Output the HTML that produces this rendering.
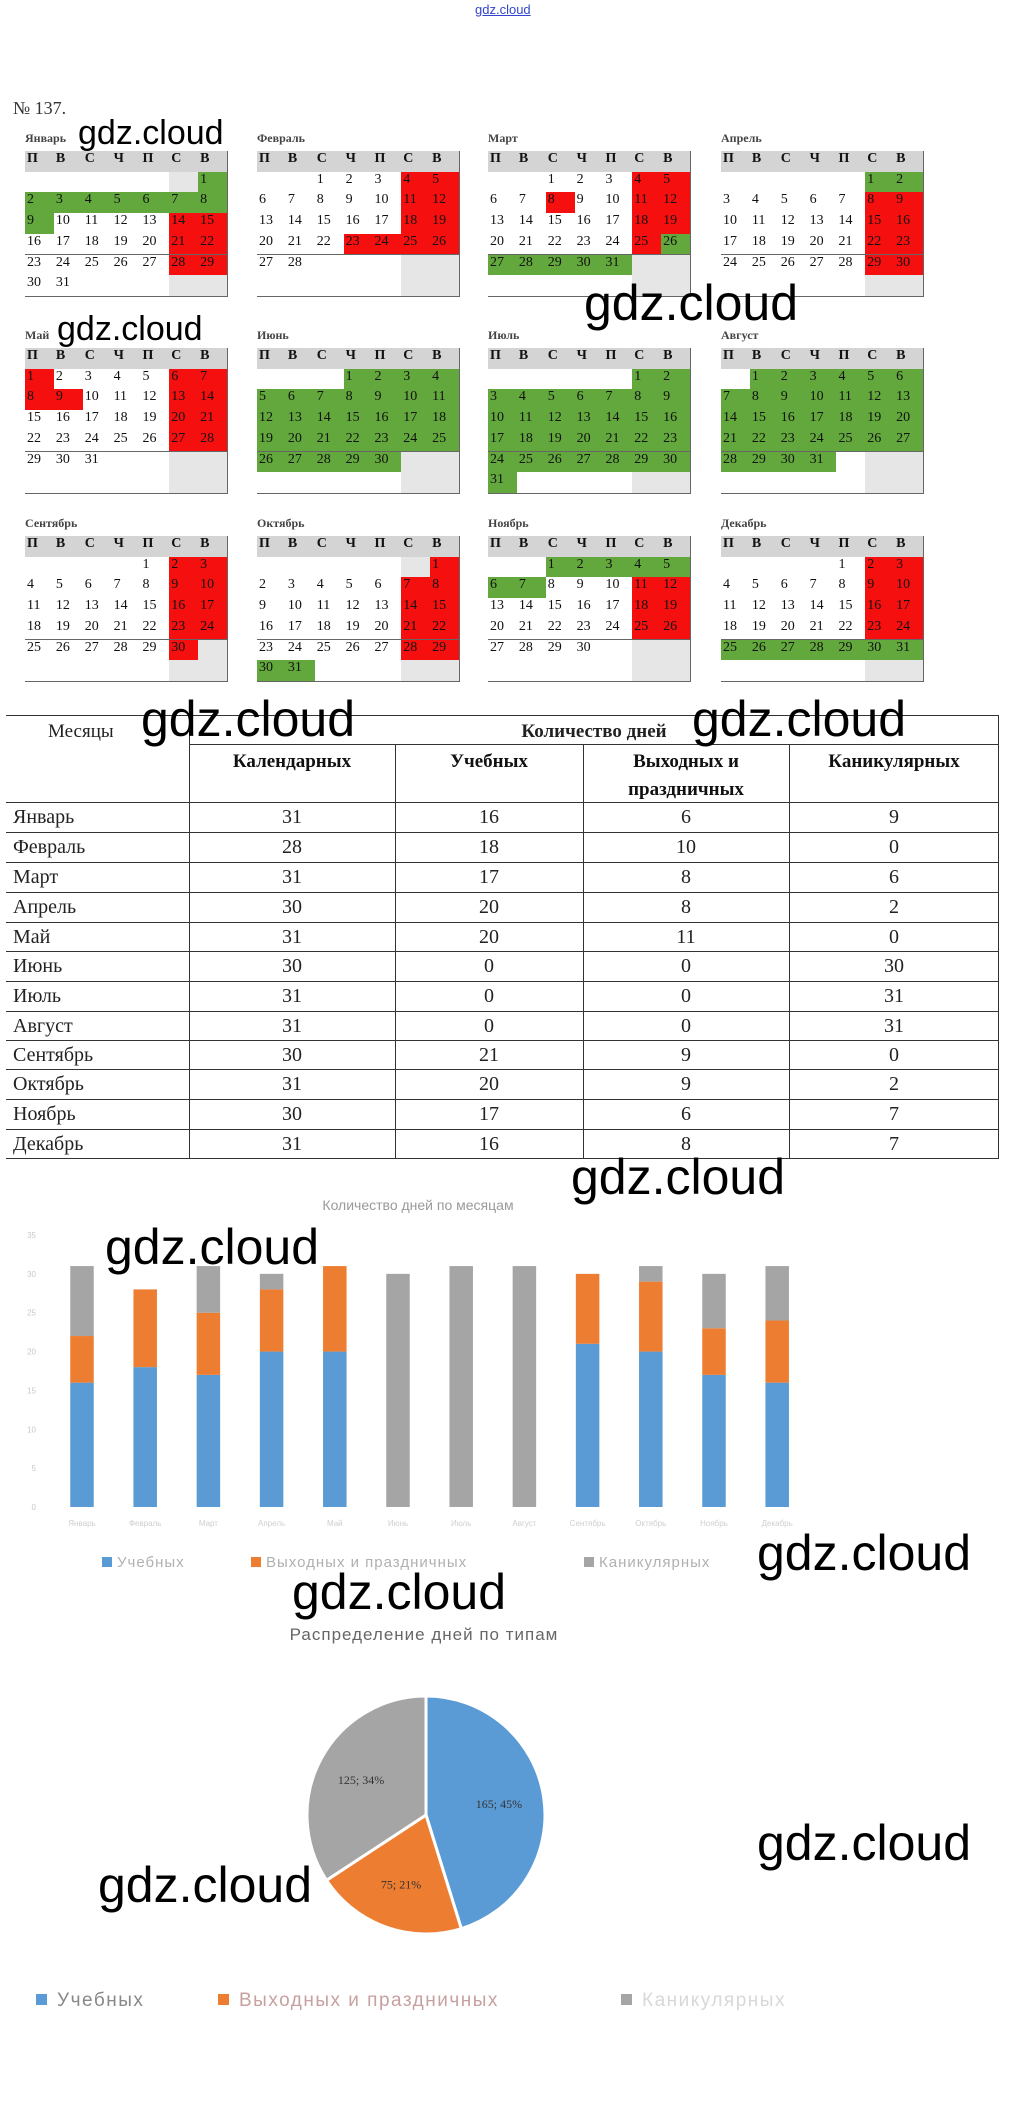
<!DOCTYPE html>
<html><head><meta charset="utf-8">
<style>
body{margin:0;background:#fff;}
#root{position:relative;width:1012px;height:2120px;overflow:hidden;background:#fff;font-family:"Liberation Serif",serif;}
.abs{position:absolute;}
.wm{position:absolute;font-family:"Liberation Sans",sans-serif;color:#000;white-space:nowrap;line-height:1;}
.cell{position:absolute;box-sizing:border-box;border-right:1px solid #666;border-bottom:1px solid #666;font-size:14px;line-height:16px;padding-left:2px;color:#111;}
.hl{position:absolute;height:1px;background:#333;}
.vl{position:absolute;width:1px;background:#333;}
.tt{position:absolute;font-size:20px;line-height:22px;color:#222;white-space:nowrap;}
.th{position:absolute;font-size:19px;line-height:22px;color:#111;font-weight:bold;white-space:nowrap;transform:translateX(-50%);}
.tc{transform:translateX(-50%);}
</style></head>
<body>
<div id="root">
<div class="abs" style="left:475px;top:2px;font-family:'Liberation Sans',sans-serif;font-size:13px;color:#3344cc;text-decoration:underline;">gdz.cloud</div>
<div class="abs" style="left:13px;top:98px;font-size:18px;color:#333;">№ 137.</div>
<div id="cal"></div>
<div id="tbl"></div>
<svg id="bar" class="abs" style="left:0;top:1180px" width="1012" height="420"></svg>
<svg id="pie" class="abs" style="left:0;top:1600px" width="1012" height="440"></svg>
<div id="wms"></div>
</div>
<script>
// ---------- chart data ----------
const months = ["Январь","Февраль","Март","Апрель","Май","Июнь","Июль","Август","Сентябрь","Октябрь","Ноябрь","Декабрь"];
const calendarDays = [31,28,31,30,31,30,31,31,30,31,30,31];
const studyDays = [16,18,17,20,20,0,0,0,21,20,17,16];
const holidayDays = [6,10,8,8,11,0,0,0,9,9,6,8];
const vacationDays = [9,0,6,2,0,30,31,31,0,2,7,7];
const yTicks = [0,5,10,15,20,25,30,35];
const pieLabels = ["Учебных","Выходных и праздничных","Каникулярных"];
const pieValues = [165,75,125];
const piePercents = ["45%","21%","34%"];

const root=document.getElementById('root');
const NS="http://www.w3.org/2000/svg";

// ---------- calendar ----------
const calStart=[6,2,2,5,0,3,5,1,4,6,2,4];
const calNames=["Январь","Февраль","Март","Апрель","Май","Июнь","Июль","Август","Сентябрь","Октябрь","Ноябрь","Декабрь"];
const calRed=[[14,15,21,22,28,29],[4,5,11,12,18,19,23,24,25,26],[4,5,8,11,12,18,19,25],[8,9,15,16,22,23,29,30],[1,6,7,8,9,13,14,20,21,27,28],[],[],[],[2,3,9,10,16,17,23,24,30],[1,7,8,14,15,21,22,28,29],[11,12,18,19,25,26],[2,3,9,10,16,17,23,24]];
const calGreen=[[1,2,3,4,5,6,7,8,9],[],[26,27,28,29,30,31],[1,2],[],"all","all","all",[],[30,31],[1,2,3,4,5,6,7],[25,26,27,28,29,30,31]];
const gxs=[25,257,488,721], gys=[151,348,536];
const cw=28.86, ch=20.7;
const cal=document.getElementById('cal');
const hdr=["П","В","С","Ч","П","С","В"];
for(let m=0;m<12;m++){
  const gx=gxs[m%4], gy=gys[Math.floor(m/4)];
  const lab=document.createElement('div');
  
  
  lab.className='abs';
  lab.style.cssText=`left:${gx}px;top:${gy-20}px;font-size:12px;color:#444;font-weight:bold;`;
  lab.textContent=calNames[m];
  cal.appendChild(lab);
  const box=document.createElement('div');
  
  
  box.className='abs';
  box.style.cssText=`left:${gx}px;top:${gy}px;width:202px;height:145px;border-left:1px solid #555;border-top:1px solid #555;box-sizing:border-box;`;
  cal.appendChild(box);
  for(let r=0;r<7;r++)for(let c=0;c<7;c++){
    const d=document.createElement('div');
    
    
    d.className='cell';
    d.style.left=(c*cw-1)+'px';d.style.top=(r*ch-1)+'px';d.style.width=(cw+1)+'px';d.style.height=(ch+1)+'px';
    let bg='#fff';
    if(r==0){bg='#d4d4d4';d.textContent=hdr[c];d.style.fontWeight='bold';}
    else{
      const day=(r-1)*7+c-calStart[m]+1;
      if(day>=1&&day<=calendarDays[m]){
        d.textContent=day;
        if(calRed[m].includes(day))bg='#f50f0f';
        else if(calGreen[m]==="all"||calGreen[m].includes(day))bg='#62a83c';
      } else if(c>=5) bg='#e6e6e6';
    }
    d.style.background=bg;
    box.appendChild(d);
  }
}

// ---------- table ----------
const tbl=document.getElementById('tbl');
function add(cls,css,txt,name){const e=document.createElement('div');e.className=cls;e.style.cssText=css;if(txt!==undefined)e.textContent=txt;
  
  
  tbl.appendChild(e);return e;}
add('hl','left:6px;top:715px;width:993px;',undefined,'table-line');
add('hl','left:189px;top:744px;width:810px;',undefined,'table-line');
const rowY=[802,832,862,892,922,951,981,1011,1040,1069,1099,1129,1158];
rowY.forEach(y=>add('hl',`left:6px;top:${y}px;width:993px;`,undefined,'table-line'));
[189,395,583,789].forEach(x=>add('vl',`left:${x}px;top:744px;height:414px;`,undefined,'table-line'));
add('vl','left:189px;top:715px;height:30px;',undefined,'table-line');
add('vl','left:998px;top:715px;height:443px;',undefined,'table-line');
add('tt','left:48px;top:721px;font-size:19px;','Месяцы','header-months');
add('tt tc','left:594px;top:721px;font-size:19px;font-weight:bold;','Количество дней','header-days');
const colX=[292,489,686,894];
add('th','left:292px;top:751px;','Календарных','header-calendar');
add('th','left:489px;top:751px;','Учебных','header-study');
add('th','left:686px;top:751px;','Выходных и','header-holiday');
add('th','left:686px;top:779px;','праздничных','header-holiday-2');
add('th','left:894px;top:751px;','Каникулярных','header-vacation');
months.forEach((mn,i)=>{
  const y=rowY[i]+4;
  add('tt',`left:13px;top:${y}px;`,mn,'row-month');
  [calendarDays[i],studyDays[i],holidayDays[i],vacationDays[i]].forEach((v,j)=>add('tt tc',`left:${colX[j]}px;top:${y}px;`,v,'row-value'));
});

// ---------- bar chart ----------
const bar=document.getElementById('bar');
function el(svg,tag,attrs,txt){const e=document.createElementNS(NS,tag);for(const k in attrs)e.setAttribute(k,attrs[k]);if(txt!==undefined)e.textContent=txt;svg.appendChild(e);return e;}
const y0=327, yUnit=272/35;
const yS=v=>y0-v*yUnit;
const xS=i=>82+i*63.2;
const bw=23.5;
const t=el(bar,'text',{x:418,y:30,'text-anchor':'middle','font-family':'Liberation Sans, sans-serif','font-size':14,fill:'#9a9a9a'},'Количество дней по месяцам');


yTicks.forEach(v=>{const e=el(bar,'text',{x:36,y:yS(v)+3,'text-anchor':'end','font-family':'Liberation Sans, sans-serif','font-size':8,fill:'#c8c8c8'},v);
  
  });
const series=[studyDays,holidayDays,vacationDays], cols=['#5b9bd5','#ed7d31','#a5a5a5'];
months.forEach((m,i)=>{
  let acc=0;
  series.forEach((s,k)=>{
    const v=s[i]; if(v<=0)return;
    const r=el(bar,'rect',{x:xS(i)-bw/2,y:yS(acc+v),width:bw,height:v*yUnit,fill:cols[k]});
    
    
    acc+=v;
  });
  const l=el(bar,'text',{x:xS(i),y:346,'text-anchor':'middle','font-family':'Liberation Sans, sans-serif','font-size':8,fill:'#cfcfcf'},m);
  
  
});
const legX=[102,251,584];
pieLabels.forEach((lb,k)=>{
  const s=el(bar,'rect',{x:legX[k],y:377,width:10,height:10,fill:cols[k]});
  
  
  const tx=el(bar,'text',{x:legX[k]+15,y:387,'font-family':'Liberation Sans, sans-serif','font-size':15,fill:'#b0b0b0','letter-spacing':'1'},lb);
  
  
});

// ---------- pie chart ----------
const pie=document.getElementById('pie');
const pt=el(pie,'text',{x:424,y:40,'text-anchor':'middle','font-family':'Liberation Sans, sans-serif','font-size':17,fill:'#666','letter-spacing':'1'},'Распределение дней  по типам');


const cx=426, cy=215, R=119;
const total=pieValues.reduce((a,b)=>a+b,0);
let ang=-Math.PI/2;
pieValues.forEach((v,k)=>{
  const a2=ang+v/total*2*Math.PI;
  const x1=cx+R*Math.cos(ang),y1=cy+R*Math.sin(ang),x2=cx+R*Math.cos(a2),y2=cy+R*Math.sin(a2);
  const large=(a2-ang)>Math.PI?1:0;
  const p=el(pie,'path',{d:`M${cx},${cy} L${x1},${y1} A${R},${R} 0 ${large} 1 ${x2},${y2} Z`,fill:cols[k],stroke:'#fff','stroke-width':3});
  
  
  const mid=(ang+a2)/2, lr=R*0.62;
  const lt=el(pie,'text',{x:cx+lr*Math.cos(mid),y:cy+lr*Math.sin(mid)+4,'text-anchor':'middle','font-family':'Liberation Serif, serif','font-size':12,fill:'#333'},v+'; '+piePercents[k]);
  
  
  ang=a2;
});
const pLegX=[36,218,621], pLegC=['#888','#c8a0a0','#d8d8d8'];
pieLabels.forEach((lb,k)=>{
  const s=el(pie,'rect',{x:pLegX[k],y:394,width:11,height:11,fill:cols[k]});
  
  
  const tx=el(pie,'text',{x:pLegX[k]+21,y:406,'font-family':'Liberation Sans, sans-serif','font-size':19,fill:pLegC[k],'letter-spacing':'1.5'},lb);
  
  
});

// ---------- watermarks ----------
const wms=[[78,116,34],[584,278,50],[57,312,34],[141,694,50],[692,694,50],[571,1152,50],[105,1222,50],[757,1528,50],[292,1567,50],[757,1818,50],[98,1860,50]];
const wmBox=document.getElementById('wms');
wms.forEach(w=>{
  const d=document.createElement('div');
  d.className='wm';
  
  
  d.style.left=w[0]+'px';d.style.top=w[1]+'px';d.style.fontSize=w[2]+'px';
  d.textContent='gdz.cloud';
  wmBox.appendChild(d);
});
</script>
</body></html>
